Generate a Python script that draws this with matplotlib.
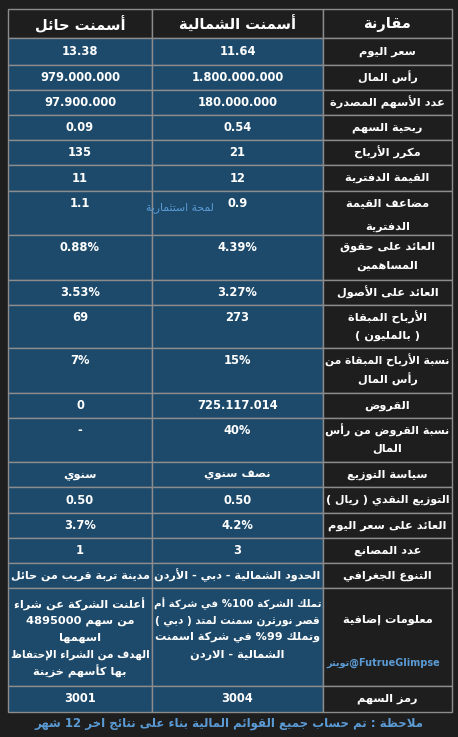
import re
import matplotlib
matplotlib.use("Agg")
import matplotlib.pyplot as plt
from matplotlib.patches import Rectangle

# ---------------- data ----------------
headers = ["مقارنة", "أسمنت الشمالية", "أسمنت حائل"]
labels = ["سعر اليوم", "رأس المال", "عدد الأسهم المصدرة", "ربحية السهم", "مكرر الأرباح",
          "القيمة الدفترية", "مضاعف القيمة\nالدفترية", "العائد على حقوق\nالمساهمين",
          "العائد على الأصول", "الأرباح المبقاة\n( بالمليون )", "نسبة الأرباح المبقاة من\nرأس المال",
          "القروض", "نسبة القروض من رأس\nالمال", "سياسة التوزيع", "التوزيع النقدي ( ريال )",
          "العائد على سعر اليوم", "عدد المصانع", "التنوع الجغرافي", "معلومات إضافية", "رمز السهم"]
north = ["11.64", "1.800.000.000", "180.000.000", "0.54", "21", "12", "0.9", "4.39%", "3.27%",
         "273", "15%", "725.117.014", "40%", "نصف سنوي", "0.50", "4.2%", "3",
         "الحدود الشمالية - دبي - الأردن",
         "تملك الشركة %100 في شركة أم\nقصر نورثرن سمنت لمتد ( دبي )\nوتملك %99 في شركة اسمنت\nالشمالية - الاردن",
         "3004"]
hail = ["13.38", "979.000.000", "97.900.000", "0.09", "135", "11", "1.1", "0.88%", "3.53%",
        "69", "7%", "0", "-", "سنوي", "0.50", "3.7%", "1", "مدينة تربة قريب من حائل",
        "أعلنت الشركة عن شراء\nمن سهم 4895000\nاسهمها\nالهدف من الشراء الإحتفاظ\nبها كأسهم خزينة",
        "3001"]
watermark1 = "لمحة استثمارية"
watermark2_ar = "تويتر"
watermark2_en = "@FutrueGlimpse"
footer = "ملاحظة : تم حساب جميع القوائم المالية بناء على نتائج اخر 12 شهر"

# ---------------- minimal Arabic shaping ----------------
_order = [("ء", 1), ("آ", 2), ("أ", 2), ("ؤ", 2), ("إ", 2), ("ئ", 4), ("ا", 2), ("ب", 4),
          ("ة", 2), ("ت", 4), ("ث", 4), ("ج", 4), ("ح", 4), ("خ", 4), ("د", 2), ("ذ", 2),
          ("ر", 2), ("ز", 2), ("س", 4), ("ش", 4), ("ص", 4), ("ض", 4), ("ط", 4), ("ظ", 4),
          ("ع", 4), ("غ", 4), ("ف", 4), ("ق", 4), ("ك", 4), ("ل", 4), ("م", 4), ("ن", 4),
          ("ه", 4), ("و", 2), ("ى", 2), ("ي", 4)]
FORMS = {}
cp = 0xFE80
for ch, n in _order:
    FORMS[ch] = [chr(cp + k) for k in range(n)]
    cp += n
LAMALEF = {"آ": (0xFEF5, 0xFEF6), "أ": (0xFEF7, 0xFEF8), "إ": (0xFEF9, 0xFEFA), "ا": (0xFEFB, 0xFEFC)}


def dual(c):
    return c in FORMS and len(FORMS[c]) == 4


def shape(s):
    s = s.replace("ـ", "")
    out = []
    i = 0
    n = len(s)
    while i < n:
        c = s[i]
        if c not in FORMS:
            out.append(c)
            i += 1
            continue
        prev = s[i - 1] if i > 0 else ""
        pj = dual(prev)
        if c == "ل" and i + 1 < n and s[i + 1] in LAMALEF:
            iso, fin = LAMALEF[s[i + 1]]
            out.append(chr(fin if pj else iso))
            i += 2
            continue
        nxt = s[i + 1] if i + 1 < n else ""
        nj = dual(c) and nxt in FORMS
        f = FORMS[c]
        if len(f) == 1:
            out.append(f[0])
        elif len(f) == 2:
            out.append(f[1] if pj else f[0])
        else:
            if pj and nj:
                out.append(f[3])
            elif pj:
                out.append(f[1])
            elif nj:
                out.append(f[2])
            else:
                out.append(f[0])
        i += 1
    return "".join(out)


MIRROR = {"(": ")", ")": "("}


def ar(s):
    s = shape(s)
    toks = re.findall(r"[A-Za-z0-9.,%@]+|[^A-Za-z0-9.,%@]+", s)
    res = []
    for t in reversed(toks):
        if re.match(r"[A-Za-z0-9.,%@]", t):
            res.append(t)
        else:
            res.append("".join(MIRROR.get(c, c) for c in reversed(t)))
    return "".join(res)


def is_ar(s):
    return any("\u0600" <= c <= "\u06ff" for c in s)


# ---------------- layout ----------------
W, H = 458, 737
fig = plt.figure(figsize=(W / 100, H / 100), dpi=100)
BG = "#1e1e1e"
BLUE = "#1d4a6b"
GRID = "#8c8c8c"
fig.patch.set_facecolor(BG)
ax = fig.add_axes([0, 0, 1, 1])
ax.set_xlim(0, W)
ax.set_ylim(H, 0)
ax.axis("off")
renderer = fig.canvas.get_renderer()

xs = [8, 152, 323, 452]  # column edges: hail, north, label
rows = [9, 38, 65, 90, 115, 140, 165, 191, 235, 280, 305, 348, 393, 418, 462, 487, 513, 538, 563, 588, 686, 712]
FONT = ["DejaVu Sans"]


def put(xc, y, s, size, maxw, color="white", weight="bold"):
    t = ax.text(xc, y, ar(s), color=color, fontsize=size, fontweight=weight,
                ha="center", va="center", family=FONT)
    w = t.get_window_extent(renderer).width
    if w > maxw:
        t.set_fontsize(size * maxw / w)
    return t


# header
for j in range(3):
    x0, x1 = xs[j], xs[j + 1]
    ax.add_patch(Rectangle((x0, rows[0]), x1 - x0, rows[1] - rows[0], fc=BG, ec=GRID, lw=1))
hdr_cols = [headers[2], headers[1], headers[0]]
for j, t in enumerate(hdr_cols):
    put((xs[j] + xs[j + 1]) / 2, (rows[0] + rows[1]) / 2 + 1, t, 10.5, 140)


def draw_lines(j, lines, ys):
    xc = (xs[j] + xs[j + 1]) / 2
    maxw = xs[j + 1] - xs[j] - 5
    for t, y in zip(lines, ys):
        size = 8.2 if is_ar(t) else 8.3
        put(xc, y, t, size, maxw)


for i in range(len(labels)):
    top, bot = rows[i + 1], rows[i + 2]
    h = bot - top
    for j, fc in enumerate([BLUE, BLUE, BG]):
        ax.add_patch(Rectangle((xs[j], top), xs[j + 1] - xs[j], h, fc=fc, ec=GRID, lw=1))
    lab = labels[i].split("\n")
    vals = [hail[i].split("\n"), north[i].split("\n")]
    if labels[i] == "معلومات إضافية":
        draw_lines(2, lab, [top + 32])
        for j in range(2):
            ys = [top + 16 + 16.8 * k for k in range(len(vals[j]))]
            draw_lines(j, vals[j], ys)
        continue
    if len(lab) > 1:
        step = 24 if i == 6 else 19
        ys = [top + 12 + step * k for k in range(len(lab))]
        draw_lines(2, lab, ys)
        for j in range(2):
            draw_lines(j, vals[j], [top + 12])
    else:
        c = (top + bot) / 2
        draw_lines(2, lab, [c])
        for j in range(2):
            draw_lines(j, vals[j], [c])

LB = "#5b9bd5"
ax.text(180, 208, ar(watermark1), color=LB, fontsize=7.8, ha="center", va="center", family=FONT)
ax.text(383, 663, ar(watermark2_ar) + watermark2_en, color=LB, fontsize=7, fontweight="bold",
        ha="center", va="center", family=FONT)
put(229, 724, footer, 8.5, 400, color=LB)

fig.savefig("out.png", dpi=100, facecolor=BG)
